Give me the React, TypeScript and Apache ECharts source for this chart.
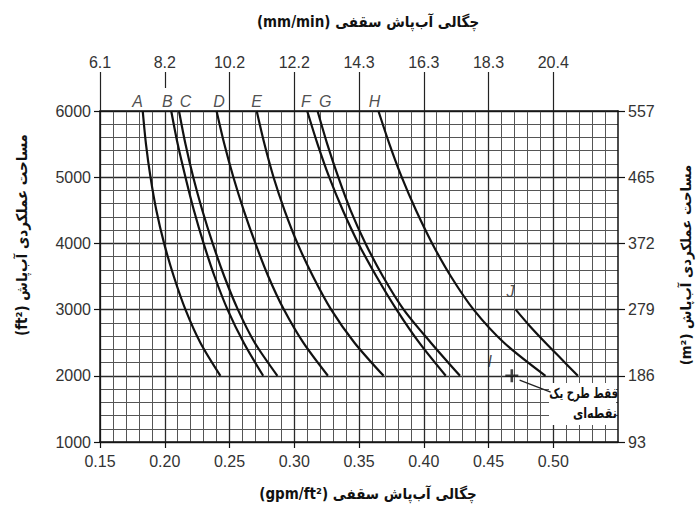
import { useEffect, useRef } from "react";
import * as echarts from "echarts";

// Sprinkler operation area levels (ft²)
const areaLevels = [6000, 5500, 5000, 4500, 4000, 3500, 3000, 2500, 2000];
// Density (gpm/ft²) of each design curve at the area levels above
const curveA = [0.183, 0.1855, 0.189, 0.1935, 0.1995, 0.207, 0.216, 0.2275, 0.243];
const curveB = [0.205, 0.21, 0.216, 0.2225, 0.23, 0.2385, 0.2485, 0.261, 0.276];
const curveC = [0.211, 0.216, 0.222, 0.229, 0.237, 0.246, 0.2565, 0.2695, 0.287];
const curveD = [0.24, 0.246, 0.253, 0.261, 0.27, 0.28, 0.292, 0.307, 0.326];
const curveE = [0.271, 0.277, 0.284, 0.2925, 0.3025, 0.3145, 0.3285, 0.3465, 0.369];
const curveF = [0.31, 0.318, 0.327, 0.3375, 0.3495, 0.3635, 0.379, 0.3965, 0.417];
const curveG = [0.318, 0.3255, 0.334, 0.3435, 0.355, 0.3685, 0.3845, 0.4055, 0.428];
const curveH = [0.365, 0.3735, 0.383, 0.394, 0.4065, 0.421, 0.4385, 0.462, 0.494];
const curveJAreas = [3000, 2750, 2500, 2250, 2000];
const curveJ = [0.471, 0.482, 0.494, 0.5065, 0.519];
const pointI = [0.468, 2000];

const curveNames = ["A", "B", "C", "D", "E", "F", "G", "H"];
const curveLabelX = [0.179, 0.202, 0.216, 0.242, 0.271, 0.309, 0.324, 0.362];
const curveLabelArea = 6140;
const labelJ = [0.467, 3280];
const labelI = [0.451, 2210];

const bottomTickValues = [0.15, 0.2, 0.25, 0.3, 0.35, 0.4, 0.45, 0.5];
const topTickLabels = ["6.1", "8.2", "10.2", "12.2", "14.3", "16.3", "18.3", "20.4"];
const rightTickLabels = ["93", "186", "279", "372", "465", "557"];

const arrowFrom = [0.498, 1755];
const arrowTo = [0.474, 1935];

const numFont = "'Liberation Sans', Arial, sans-serif";
const faFont = "'DejaVu Sans', 'Noto Sans', sans-serif";

export default function App() {
  const ref = useRef<HTMLDivElement>(null);

  useEffect(() => {
    if (!ref.current) return;
    const chart = echarts.init(ref.current, undefined, { renderer: "svg" });

    const curves = [curveA, curveB, curveC, curveD, curveE, curveF, curveG, curveH];
    const lineSeries: any[] = curves.map((c, i) => ({
      type: "line",
      name: curveNames[i],
      data: areaLevels.map((a, k) => [c[k], a]),
      smooth: 0.3,
      symbol: "none",
      lineStyle: { color: "#111", width: 2.2 },
      z: 3,
    }));
    lineSeries.push({
      type: "line",
      name: "J",
      data: curveJAreas.map((a, k) => [curveJ[k], a]),
      smooth: 0.3,
      symbol: "none",
      lineStyle: { color: "#111", width: 2.2 },
      z: 3,
    });

    const labelData = curveNames.map((n, i) => ({ name: n, value: [curveLabelX[i], curveLabelArea] }));
    labelData.push({ name: "J", value: labelJ });
    labelData.push({ name: "I", value: labelI });

    const topTickNoB = bottomTickValues.filter((v) => Math.abs(v - 0.2) > 1e-9);

    const titleStyle = (text: string, size: number) => ({
      text,
      x: 0,
      y: 0,
      align: "center",
      verticalAlign: "middle",
      font: `bold ${size}px ${faFont}`,
      fill: "#111",
    });

    const option: any = {
      animation: false,
      backgroundColor: "#fff",
      grid: { left: 100, right: 79, top: 111, bottom: 65, containLabel: false },
      xAxis: [
        {
          type: "value",
          position: "bottom",
          min: 0.15,
          max: 0.55,
          interval: 0.05,
          axisLine: { show: true, onZero: false, lineStyle: { color: "#111", width: 1.5 } },
          axisTick: { show: true, customValues: bottomTickValues, length: 6, lineStyle: { color: "#111", width: 1.2 } },
          axisLabel: {
            customValues: bottomTickValues,
            formatter: (v: number) => v.toFixed(2),
            fontSize: 16,
            color: "#333",
            fontFamily: numFont,
            margin: 11,
          },
          splitLine: { show: true, lineStyle: { color: "#2a2a2a", width: 1.3 } },
          minorTick: { show: false, splitNumber: 5 },
          minorSplitLine: { show: true, lineStyle: { color: "#555", width: 1 } },
        },
        {
          type: "value",
          position: "top",
          min: 0.15,
          max: 0.55,
          interval: 0.05,
          axisLine: { show: true, onZero: false, lineStyle: { color: "#111", width: 1.5 } },
          axisTick: { show: true, customValues: topTickNoB, length: 39, lineStyle: { color: "#222", width: 1.2 } },
          axisLabel: {
            customValues: bottomTickValues,
            formatter: (v: number) => topTickLabels[Math.round((v - 0.15) / 0.05)] ?? "",
            fontSize: 16,
            color: "#333",
            fontFamily: numFont,
            margin: 41,
          },
          splitLine: { show: false },
        },
        {
          type: "value",
          position: "top",
          offset: 23,
          min: 0.15,
          max: 0.55,
          axisLine: { show: false },
          axisTick: { show: true, customValues: [0.2], length: 16, lineStyle: { color: "#222", width: 1.2 } },
          axisLabel: { show: false },
          splitLine: { show: false },
        },
      ],
      yAxis: [
        {
          type: "value",
          position: "left",
          min: 1000,
          max: 6000,
          interval: 1000,
          axisLine: { show: true, onZero: false, lineStyle: { color: "#111", width: 1.5 } },
          axisTick: { show: true, length: 6, lineStyle: { color: "#111", width: 1.2 } },
          axisLabel: {
            formatter: (v: number) => String(v),
            fontSize: 16,
            color: "#333",
            fontFamily: numFont,
            margin: 9,
          },
          splitLine: { show: true, lineStyle: { color: "#2a2a2a", width: 1.3 } },
          minorTick: { show: false, splitNumber: 5 },
          minorSplitLine: { show: true, lineStyle: { color: "#555", width: 1 } },
        },
        {
          type: "value",
          position: "right",
          min: 1000,
          max: 6000,
          interval: 1000,
          axisLine: { show: true, onZero: false, lineStyle: { color: "#111", width: 1.5 } },
          axisTick: { show: true, length: 7, lineStyle: { color: "#111", width: 1.2 } },
          axisLabel: {
            formatter: (v: number) => rightTickLabels[Math.round((v - 1000) / 1000)] ?? "",
            fontSize: 16,
            color: "#333",
            fontFamily: numFont,
            margin: 10,
          },
          splitLine: { show: false },
        },
      ],
      graphic: [
        {
          type: "text",
          x: 368,
          y: 22,
          scaleX: 0.9,
          style: titleStyle("(mm/min) چگالی آب‌پاش سقفی", 15),
        },
        {
          type: "text",
          x: 368,
          y: 494,
          scaleX: 0.9,
          style: titleStyle("(gpm/ft²) چگالی آب‌پاش سقفی", 15),
        },
        {
          type: "text",
          x: 22,
          y: 235,
          rotation: Math.PI / 2,
          scaleX: 0.9,
          style: titleStyle("(ft²) مساحت عملکردی آب‌پاش", 15),
        },
        {
          type: "text",
          x: 686,
          y: 265,
          rotation: Math.PI / 2,
          scaleX: 0.95,
          style: titleStyle("(m²) مساحت عملکردی آب‌پاش", 14),
        },
        {
          type: "rect",
          z: 1,
          shape: { x: 549, y: 383, width: 67, height: 42 },
          style: { fill: "#fff" },
        },
        {
          type: "text",
          z: 5,
          x: 618,
          y: 393,
          scaleX: 0.72,
          style: {
            text: "فقط طرح یک",
            x: 0,
            y: 0,
            align: "right",
            verticalAlign: "middle",
            font: `bold 14px ${faFont}`,
            fill: "#111",
          },
        },
        {
          type: "text",
          z: 5,
          x: 617,
          y: 413,
          scaleX: 0.8,
          style: {
            text: "نقطه‌ای",
            x: 0,
            y: 0,
            align: "right",
            verticalAlign: "middle",
            font: `bold 14px ${faFont}`,
            fill: "#111",
          },
        },
      ],
      series: [
        ...lineSeries,
        {
          type: "scatter",
          name: "I",
          data: [pointI],
          symbol: "path://M4,0h2v4h4v2h-4v4h-2v-4h-4v-2h4z",
          symbolSize: 13,
          itemStyle: { color: "#111" },
          z: 4,
          markLine: {
            silent: true,
            symbol: ["none", "arrow"],
            symbolSize: [0, 8],
            label: { show: false },
            lineStyle: { color: "#222", width: 1.3, type: "solid" },
            data: [[{ coord: arrowFrom }, { coord: arrowTo }]],
          },
        },
        {
          type: "scatter",
          name: "labels",
          data: labelData,
          symbolSize: 0,
          clip: false,
          silent: true,
          label: {
            show: true,
            position: "inside",
            formatter: "{b}",
            fontStyle: "italic",
            fontSize: 16,
            color: "#222",
            fontFamily: numFont,
          },
          z: 5,
        },
      ],
    };

    chart.setOption(option);
    return () => chart.dispose();
  }, []);

  return (
    <div
      ref={ref}
      style={{ position: "fixed", left: 0, top: 0, width: 697, height: 507, background: "#fff" }}
    />
  );
}
